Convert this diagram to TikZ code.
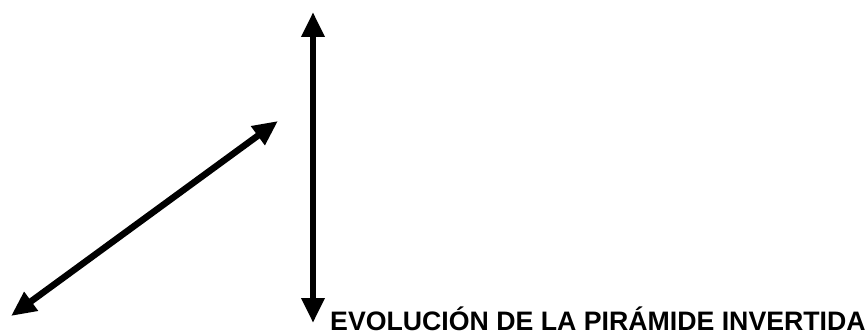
\documentclass[tikz,border=0pt]{standalone}
\usepackage{fontspec}
\setmainfont{Liberation Sans}
\usetikzlibrary{arrows.meta}
\begin{document}
\begin{tikzpicture}[x=1pt,y=-1pt,
  dblarrow/.style={line width=6.5pt,{Triangle[length=25pt,width=22pt]}-{Triangle[length=25pt,width=22pt]}}]
\useasboundingbox (0,0) rectangle (868,334);
\coordinate (vtop) at (313,12);
\coordinate (vbot) at (313,323);
\coordinate (dlow) at (11,316);
\coordinate (dhigh) at (278,121);
\draw[dblarrow] (vbot) -- (vtop);
\draw[dblarrow] (dlow) -- (dhigh);
\node[anchor=base west,inner sep=0pt,font=\fontsize{26.7}{30}\selectfont\bfseries] (title) at (330,330) {EVOLUCIÓN DE LA PIRÁMIDE INVERTIDA};
\end{tikzpicture}
\end{document}
